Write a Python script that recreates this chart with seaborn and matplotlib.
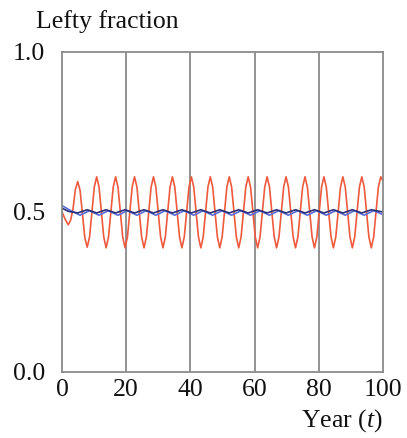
import matplotlib
matplotlib.use("Agg")
import matplotlib.pyplot as plt
import seaborn as sns
import pandas as pd

# Red series: samples (start, then one row per cycle)
red_t = [0.0, 1.0, 1.95, 2.7,
         3.43, 4.16, 4.9, 5.64, 6.37, 7.11, 7.85, 8.59,
         9.33, 10.06, 10.8, 11.54, 12.27, 13.01, 13.75, 14.49,
         15.23, 15.96, 16.7, 17.44, 18.17, 18.91, 19.65, 20.39,
         21.13, 21.86, 22.6, 23.34, 24.07, 24.81, 25.55, 26.29,
         27.03, 27.76, 28.5, 29.24, 29.97, 30.71, 31.45, 32.19,
         32.93, 33.66, 34.4, 35.14, 35.87, 36.61, 37.35, 38.09,
         38.83, 39.56, 40.3, 41.04, 41.77, 42.51, 43.25, 43.99,
         44.73, 45.46, 46.2, 46.94, 47.67, 48.41, 49.15, 49.89,
         50.63, 51.36, 52.1, 52.84, 53.57, 54.31, 55.05, 55.79,
         56.53, 57.26, 58.0, 58.74, 59.47, 60.21, 60.95, 61.69,
         62.43, 63.16, 63.9, 64.64, 65.37, 66.11, 66.85, 67.59,
         68.33, 69.06, 69.8, 70.54, 71.27, 72.01, 72.75, 73.49,
         74.23, 74.96, 75.7, 76.44, 77.17, 77.91, 78.65, 79.39,
         80.13, 80.86, 81.6, 82.34, 83.07, 83.81, 84.55, 85.29,
         86.03, 86.76, 87.5, 88.24, 88.97, 89.71, 90.45, 91.19,
         91.93, 92.66, 93.4, 94.14, 94.87, 95.61, 96.35, 97.09,
         97.83, 98.56, 99.3, 100.0]
red_v = [0.50, 0.477, 0.46, 0.475,
         0.51, 0.57, 0.595, 0.567, 0.495, 0.42, 0.39, 0.422,
         0.50, 0.578, 0.61, 0.578, 0.50, 0.422, 0.388, 0.422,
         0.50, 0.578, 0.61, 0.578, 0.50, 0.422, 0.388, 0.422,
         0.50, 0.578, 0.61, 0.578, 0.50, 0.422, 0.388, 0.422,
         0.50, 0.578, 0.61, 0.578, 0.50, 0.422, 0.388, 0.422,
         0.50, 0.578, 0.61, 0.578, 0.50, 0.422, 0.388, 0.422,
         0.50, 0.578, 0.61, 0.578, 0.50, 0.422, 0.388, 0.422,
         0.50, 0.578, 0.61, 0.578, 0.50, 0.422, 0.388, 0.422,
         0.50, 0.578, 0.61, 0.578, 0.50, 0.422, 0.388, 0.422,
         0.50, 0.578, 0.61, 0.578, 0.50, 0.422, 0.388, 0.422,
         0.50, 0.578, 0.61, 0.578, 0.50, 0.422, 0.388, 0.422,
         0.50, 0.578, 0.61, 0.578, 0.50, 0.422, 0.388, 0.422,
         0.50, 0.578, 0.61, 0.578, 0.50, 0.422, 0.388, 0.422,
         0.50, 0.578, 0.61, 0.578, 0.50, 0.422, 0.388, 0.422,
         0.50, 0.578, 0.61, 0.578, 0.50, 0.422, 0.388, 0.422,
         0.50, 0.578, 0.61, 0.578, 0.50, 0.422, 0.388, 0.422,
         0.50, 0.578, 0.61, 0.597]

# Medium blue series
blue_t = [0, 2.6, 5.6, 8.55, 11.5, 14.45, 17.4, 20.35, 23.3, 26.25, 29.2, 32.15,
          35.1, 38.05, 41.0, 43.95, 46.9, 49.85, 52.8, 55.75, 58.7, 61.65, 64.6,
          67.55, 70.5, 73.45, 76.4, 79.35, 82.3, 85.25, 88.2, 91.15, 94.1, 97.05, 100]
blue_v = [0.52, 0.505, 0.49, 0.504, 0.49, 0.504, 0.49, 0.504, 0.49, 0.504, 0.49,
          0.504, 0.49, 0.504, 0.49, 0.504, 0.49, 0.504, 0.49, 0.504, 0.49, 0.504,
          0.49, 0.504, 0.49, 0.504, 0.49, 0.504, 0.49, 0.504, 0.49, 0.504, 0.49,
          0.504, 0.492]

# Dark navy series
navy_t = [0, 2.0, 4.9, 7.85, 10.8, 13.75, 16.7, 19.65, 22.6, 25.55, 28.5, 31.45,
          34.4, 37.35, 40.3, 43.25, 46.2, 49.15, 52.1, 55.05, 58.0, 60.95, 63.9,
          66.85, 69.8, 72.75, 75.7, 78.65, 81.6, 84.55, 87.5, 90.45, 93.4, 96.35, 100]
navy_v = [0.512, 0.502, 0.497, 0.507, 0.497, 0.507, 0.497, 0.507, 0.497, 0.507, 0.497,
          0.507, 0.497, 0.507, 0.497, 0.507, 0.497, 0.507, 0.497, 0.507, 0.497, 0.507,
          0.497, 0.507, 0.497, 0.507, 0.497, 0.507, 0.497, 0.507, 0.497, 0.507, 0.497,
          0.507, 0.50]

x_ticks = [0, 20, 40, 60, 80, 100]
y_ticks = [0.0, 0.5, 1.0]
y_tick_labels = ["0.0", "0.5", "1.0"]

df = pd.concat([
    pd.DataFrame({"t": red_t, "v": red_v, "s": "red"}),
    pd.DataFrame({"t": blue_t, "v": blue_v, "s": "blue"}),
    pd.DataFrame({"t": navy_t, "v": navy_v, "s": "navy"}),
], ignore_index=True)

sns.set_theme(style="white")
plt.rcParams["font.family"] = ["Liberation Serif", "DejaVu Serif"]
plt.rcParams["mathtext.fontset"] = "custom"
plt.rcParams["mathtext.it"] = "Liberation Serif:italic"
plt.rcParams["mathtext.rm"] = "Liberation Serif"

fig = plt.figure(figsize=(4.07, 4.38), dpi=100)
ax = fig.add_axes([62 / 407, 1 - 372 / 438, (383 - 62) / 407, (372 - 52) / 438])

for xv in [20, 40, 60, 80]:
    ax.axvline(xv, color="#8a8a8a", lw=1.3, zorder=0)

sns.lineplot(data=df, x="t", y="v", hue="s", sort=False,
             palette={"red": "#ee5a3e", "blue": "#5b6bd6", "navy": "#2a2f78"},
             hue_order=["red", "blue", "navy"], lw=1.2, legend=False, ax=ax)

ax.set_xlim(0, 100)
ax.set_ylim(0, 1)
ax.set_xticks(x_ticks)
ax.set_xticklabels([str(v) for v in x_ticks])
ax.set_yticks(y_ticks)
ax.set_yticklabels(y_tick_labels)
ax.tick_params(axis="both", length=0, labelsize=18.5, colors="#111111")
ax.tick_params(axis="x", pad=5)
ax.tick_params(axis="y", pad=12)
ax.set_xlabel("")
ax.set_ylabel("")
for sp in ax.spines.values():
    sp.set_color("#8a8a8a")
    sp.set_linewidth(1.3)

fig.text(36 / 407, 1 - 22 / 438, "Lefty fraction", fontsize=18.5, ha="left", va="center",
         color="#111111")
fig.text(383 / 407, 1 - 421 / 438, "Year ($t$)", fontsize=18.5, ha="right", va="center",
         color="#111111")

fig.savefig("out.png", dpi=100)
